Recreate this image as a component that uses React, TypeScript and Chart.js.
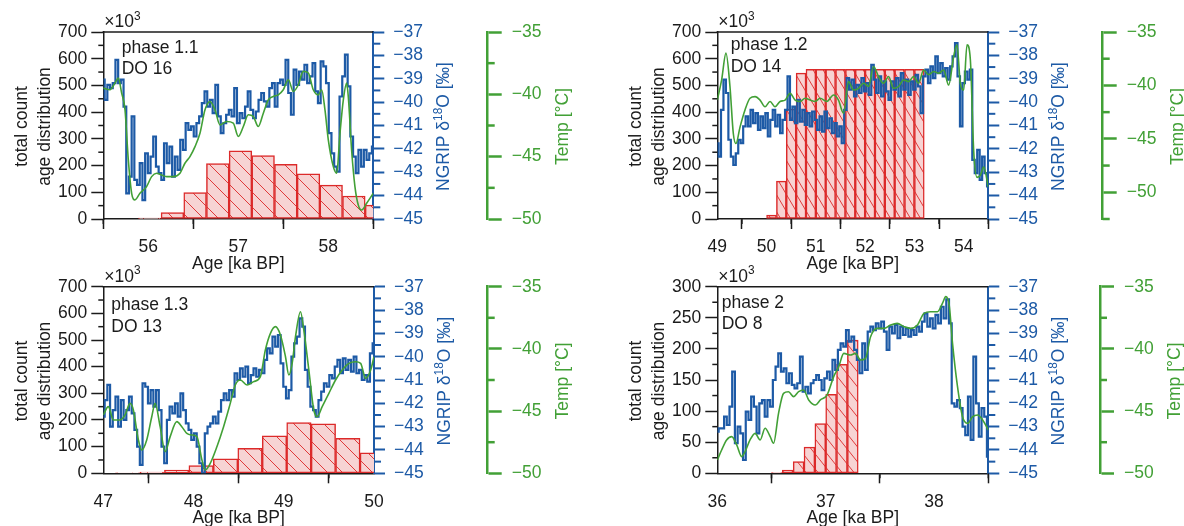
import { useEffect, useRef } from 'react';
import { Chart, registerables } from 'chart.js';

Chart.register(...registerables);

const FONT_FAMILY = '"Liberation Sans", Arial, Helvetica, sans-serif';
const FONT_SIZE = 17.5;
const INK = '#1b1b1b';
const BLUE = '#1d5aa6';
const GREEN = '#42a036';
const RED = '#dc2a2a';
const PINK = '#f7d3d3';

// shared right-hand axes
const isoTicks = [-45, -44, -43, -42, -41, -40, -39, -38, -37];
const tempTicks = [-50, -45, -40, -35];

// ---------- phase 1.1 / DO 16 ----------
const p1AgeTicks = [56, 57, 58];
const p1CountTicks = [0, 100, 200, 300, 400, 500, 600, 700];
const p1BinCenters = [56.016, 56.268, 56.52, 56.772, 57.024, 57.276, 57.528, 57.78, 58.032, 58.284, 58.536];
const p1BinCounts = [3, 24, 99, 207, 255, 237, 205, 169, 127, 86, 52];
const p1IsoFirstAge = 55.5;
const p1IsoStep = 0.03;
const p1Iso = [
  -39.04, -39.9, -39.26, -39.4, -39.19, -38.19, -39.19, -39.04, -40.19, -43.9,
  -43.19, -40.61, -43.33, -43.54, -42.61, -44.19, -42.19, -43.04, -42.33, -41.47,
  -42.76, -43.04, -43.33, -41.76, -42.61, -41.9, -43.19, -42.33, -42.9, -41.61,
  -42.04, -40.9, -41.19, -41.04, -41.47, -40.9, -40.61, -40.04, -39.54, -40.19,
  -39.9, -40.47, -39.26, -40.61, -41.33, -40.9, -40.54, -40.33, -40.61, -39.4,
  -40.9, -40.47, -40.69, -40.19, -39.54, -40.33, -40.69, -40.4, -39.9, -39.61,
  -39.97, -40.19, -39.4, -39.19, -40.19, -39.19, -39.04, -39.26, -38.19, -39.61,
  -40.54, -38.61, -39.26, -38.69, -39.04, -38.4, -39.19, -38.9, -38.33, -39.54,
  -40.04, -38.26, -38.47, -39.19, -41.33, -42.19, -42.76, -42.97, -39.76, -38.9,
  -37.97, -39.33, -41.47, -42.33, -43.04, -42.04, -42.76, -42.04, -42.47, -42.19,
  -41.9,
];
const p1TempAges = [
  55.5, 55.574, 55.63, 55.667, 55.704, 55.741, 55.778, 55.815, 55.852, 55.907,
  55.981, 56.037, 56.093, 56.148, 56.204, 56.278, 56.352, 56.407, 56.463, 56.519,
  56.574, 56.63, 56.685, 56.741, 56.796, 56.87, 56.944, 57.0, 57.056, 57.111,
  57.167, 57.222, 57.278, 57.333, 57.389, 57.444, 57.5, 57.556, 57.611, 57.667,
  57.722, 57.778, 57.833, 57.889, 57.926, 57.963, 58.0, 58.056, 58.093, 58.13,
  58.167, 58.204, 58.222, 58.259, 58.296, 58.333, 58.37, 58.426, 58.5,
];
const p1Temp = [
  -39.5, -39.63, -39.1, -38.7, -39.9, -41.24, -45.26, -47.94, -48.47, -47.94,
  -47.4, -46.6, -46.33, -46.47, -46.6, -46.6, -46.33, -45.53, -44.99, -44.19,
  -43.12, -41.24, -40.57, -41.24, -42.45, -42.18, -42.31, -43.38, -42.58, -41.64,
  -41.78, -42.58, -41.51, -40.44, -40.17, -40.04, -39.63, -38.83, -39.77, -39.23,
  -38.16, -38.29, -39.63, -40.04, -39.63, -41.24, -43.65, -45.8, -46.33, -43.12,
  -40.44, -39.1, -40.17, -44.46, -47.4, -48.88, -49.28, -48.74, -47.94,
];

// ---------- phase 1.2 / DO 14 ----------
const p2AgeTicks = [49, 50, 51, 52, 53, 54];
const p2CountTicks = [0, 100, 200, 300, 400, 500, 600, 700];
const p2BinCenters = [50.1, 50.3, 50.5, 50.7, 50.9, 51.1, 51.3, 51.5, 51.7, 51.9, 52.1, 52.3, 52.5, 52.7, 52.9, 53.1];
const p2BinCounts = [15, 142, 411, 546, 560, 560, 560, 560, 560, 560, 560, 560, 560, 560, 560, 560];
const p2IsoFirstAge = 49.0;
const p2IsoStep = 0.05;
const p2Iso = [
  -41.76, -42.33, -40.33, -39.04, -39.61, -41.61, -42.33, -42.69, -42.19, -41.61,
  -41.76, -41.04, -40.61, -41.04, -40.33, -40.9, -40.47, -41.19, -40.61, -41.11,
  -40.47, -41.47, -40.76, -40.33, -41.04, -40.54, -41.33, -40.76, -40.33, -38.9,
  -40.76, -40.19, -40.9, -39.9, -40.83, -40.33, -40.97, -40.47, -41.04, -40.4,
  -40.76, -41.19, -40.61, -41.26, -40.4, -41.11, -40.69, -41.33, -40.9, -41.47,
  -41.04, -41.76, -40.33, -38.97, -39.47, -39.04, -39.76, -39.26, -39.61, -38.97,
  -39.54, -39.19, -39.69, -38.4, -39.04, -39.61, -38.9, -39.76, -39.11, -39.54,
  -39.9, -39.11, -39.47, -38.97, -39.76, -38.76, -39.47, -39.04, -39.69, -39.11,
  -39.47, -38.83, -39.33, -40.47, -38.9, -38.61, -39.19, -38.47, -38.97, -38.04,
  -38.76, -38.33, -38.9, -38.54, -39.04, -38.47, -38.04, -37.47, -38.9, -41.04,
  -39.19, -38.69, -39.04, -38.61, -42.47, -43.04, -42.04, -43.33, -42.33, -43.04,
  -43.61,
];
const p2TempAges = [
  49.0, 49.088, 49.176, 49.257, 49.325, 49.379, 49.461, 49.562, 49.664, 49.766,
  49.867, 49.969, 50.07, 50.172, 50.274, 50.375, 50.477, 50.579, 50.68, 50.782,
  50.883, 50.985, 51.087, 51.222, 51.358, 51.459, 51.561, 51.663, 51.764, 51.866,
  51.967, 52.069, 52.171, 52.272, 52.374, 52.476, 52.577, 52.679, 52.78, 52.882,
  52.984, 53.085, 53.187, 53.289, 53.39, 53.492, 53.593, 53.695, 53.797, 53.864,
  53.932, 54.0, 54.068, 54.136, 54.203, 54.271, 54.339, 54.407, 54.5,
];
const p2Temp = [
  -41.37, -39.49, -36.98, -40.1, -44.5, -45.44, -43.9, -42.3, -41.2, -41.05,
  -41.37, -42.0, -41.5, -42.0, -41.5, -41.37, -40.74, -41.37, -41.5, -41.2,
  -41.37, -41.5, -41.2, -41.5, -40.9, -41.37, -42.6, -39.64, -40.43, -40.27,
  -39.8, -40.1, -38.23, -39.17, -39.8, -39.17, -40.27, -40.1, -39.49, -39.64,
  -39.17, -39.8, -38.55, -39.0, -38.7, -38.86, -38.55, -39.96, -37.29, -36.19,
  -39.8, -40.43, -36.19, -37.6, -46.08, -48.6, -48.4, -47.65, -49.5,
];

// ---------- phase 1.3 / DO 13 ----------
const p3AgeTicks = [47, 48, 49, 50];
const p3CountTicks = [0, 100, 200, 300, 400, 500, 600, 700];
const p3BinCenters = [47.271, 47.542, 47.813, 48.084, 48.355, 48.626, 48.897, 49.168, 49.439, 49.71, 49.981];
const p3BinCounts = [1, 5, 12, 29, 54, 94, 141, 190, 186, 131, 77];
const p3IsoFirstAge = 47.0;
const p3IsoStep = 0.03;
const p3Iso = [
  -42.57, -41.86, -41.21, -43.0, -42.29, -41.71, -43.0, -41.86, -42.71, -42.29,
  -41.71, -42.43, -43.14, -43.86, -44.64, -41.14, -41.29, -42.0, -41.43, -42.14,
  -41.43, -42.29, -43.86, -44.57, -42.71, -42.14, -42.43, -42.0, -42.57, -41.57,
  -42.29, -42.86, -43.14, -43.57, -43.29, -43.86, -44.57, -45.0, -43.29, -43.0,
  -42.86, -42.57, -42.86, -42.36, -41.86, -41.57, -41.86, -41.43, -41.71, -40.71,
  -41.0, -40.5, -40.86, -40.43, -41.14, -40.79, -40.5, -40.86, -40.57, -40.71,
  -40.14, -39.64, -39.86, -39.14, -39.57, -39.07, -40.29, -41.29, -41.79, -41.43,
  -40.0, -39.43, -39.14, -38.36, -38.71, -40.57, -41.29, -42.14, -42.29, -42.57,
  -41.86, -41.5, -41.14, -41.29, -40.79, -40.93, -40.43, -40.14, -40.71, -40.07,
  -40.57, -40.14, -40.64, -40.0, -40.71, -40.57, -41.0, -40.79, -41.07, -39.86,
  -39.43,
];
const p3TempAges = [
  47.0, 47.056, 47.111, 47.185, 47.241, 47.296, 47.333, 47.389, 47.426, 47.481,
  47.537, 47.574, 47.63, 47.685, 47.741, 47.815, 47.87, 47.926, 47.981, 48.037,
  48.093, 48.13, 48.185, 48.259, 48.333, 48.407, 48.463, 48.519, 48.593, 48.667,
  48.741, 48.796, 48.852, 48.907, 48.963, 49.019, 49.056, 49.093, 49.13, 49.185,
  49.222, 49.278, 49.333, 49.37, 49.426, 49.5, 49.574, 49.648, 49.722, 49.796,
  49.852, 49.907, 49.963, 50.0,
];
const p3Temp = [
  -45.31, -44.64, -45.71, -45.71, -45.31, -44.38, -44.91, -47.32, -48.13, -47.32,
  -45.45, -44.38, -46.25, -48.26, -47.05, -45.85, -46.25, -46.79, -46.92, -47.05,
  -48.93, -49.73, -49.2, -47.86, -46.25, -44.38, -42.9, -42.5, -42.9, -42.63,
  -42.23, -40.09, -38.75, -38.21, -38.88, -40.63, -42.1, -41.16, -39.02, -37.01,
  -38.48, -41.7, -44.91, -45.45, -44.64, -43.57, -42.5, -41.7, -41.16, -41.03,
  -41.16, -42.37, -41.7, -40.63,
];

// ---------- phase 2 / DO 8 ----------
const p4AgeTicks = [36, 37, 38];
const p4CountTicks = [0, 50, 100, 150, 200, 250, 300];
const p4BinCenters = [36.55, 36.65, 36.75, 36.85, 36.95, 37.05, 37.15, 37.25];
const p4BinCounts = [1, 5, 19, 42, 80, 127, 175, 214];
const p4IsoFirstAge = 36.0;
const p4IsoStep = 0.025;
const p4Iso = [
  -43.21, -43.07, -43.07, -42.57, -42.93, -42.14, -40.64, -43.71, -43.0, -43.29,
  -44.43, -42.36, -42.71, -41.71, -42.14, -43.29, -42.0, -41.86, -42.57, -41.86,
  -42.14, -41.0, -40.43, -39.86, -40.64, -40.5, -41.14, -40.71, -41.21, -41.36,
  -41.14, -40.0, -41.5, -41.29, -41.57, -41.14, -41.0, -40.79, -41.0, -41.43,
  -40.93, -40.64, -41.0, -40.14, -40.57, -39.71, -39.43, -39.57, -38.86, -39.36,
  -39.14, -39.71, -40.14, -40.71, -39.43, -40.57, -38.93, -38.71, -38.86, -38.57,
  -38.79, -38.5, -38.93, -39.71, -38.71, -39.0, -38.64, -39.21, -38.71, -39.07,
  -38.79, -39.14, -38.86, -39.07, -38.71, -38.93, -38.5, -38.14, -38.71, -38.36,
  -38.79, -38.21, -38.57, -37.86, -38.36, -37.54, -38.57, -42.0, -42.14, -41.86,
  -42.21, -43.0, -43.36, -41.71, -43.57, -40.0, -42.0, -43.43, -42.21, -42.57,
  -44.29,
];
const p4TempAges = [
  36.0, 36.04, 36.086, 36.133, 36.179, 36.225, 36.256, 36.302, 36.349, 36.395,
  36.441, 36.488, 36.519, 36.565, 36.611, 36.657, 36.704, 36.75, 36.796, 36.843,
  36.904, 36.951, 37.012, 37.074, 37.12, 37.167, 37.228, 37.275, 37.321, 37.367,
  37.414, 37.475, 37.537, 37.599, 37.66, 37.722, 37.784, 37.846, 37.907, 37.969,
  38.031, 38.077, 38.108, 38.139, 38.17, 38.216, 38.262, 38.309, 38.355, 38.401,
  38.448, 38.5,
];
const p4Temp = [
  -48.93, -48.13, -47.32, -47.05, -47.72, -48.66, -48.26, -47.32, -46.79, -47.32,
  -46.38, -47.05, -47.59, -45.18, -43.57, -43.44, -43.84, -43.44, -43.3, -44.1,
  -44.51, -44.1, -43.71, -42.23, -41.43, -40.36, -40.49, -40.36, -40.89, -40.76,
  -39.02, -38.35, -38.35, -38.08, -37.95, -38.21, -38.35, -38.08, -37.14, -37.01,
  -37.01, -36.34, -35.8, -36.47, -39.55, -43.04, -45.45, -45.98, -45.45, -45.31,
  -45.71, -46.52,
];

type Panel = {
  phase: string;
  event: string;
  ageMin: number;
  ageMax: number;
  ageTicks: number[];
  countMax: number;
  countTicks: number[];
  tempMin: number;
  binCenters: number[];
  binCounts: number[];
  isoFirstAge: number;
  isoStep: number;
  iso: number[];
  tempAges: number[];
  temp: number[];
};

type Frame = {
  x: number; y: number; w: number; h: number;
  left: number; right: number; top: number; bottom: number; tempAxis: number;
  labelDx: number; labelBase1: number; labelBase2: number;
  hatchW: number; hatchH: number;
};

const panels: Panel[] = [
  { phase: 'phase 1.1', event: 'DO 16', ageMin: 55.5, ageMax: 58.5, ageTicks: p1AgeTicks, countMax: 700, countTicks: p1CountTicks, tempMin: -50,
    binCenters: p1BinCenters, binCounts: p1BinCounts, isoFirstAge: p1IsoFirstAge, isoStep: p1IsoStep, iso: p1Iso, tempAges: p1TempAges, temp: p1Temp },
  { phase: 'phase 1.2', event: 'DO 14', ageMin: 49, ageMax: 54.5, ageTicks: p2AgeTicks, countMax: 700, countTicks: p2CountTicks, tempMin: -52.5,
    binCenters: p2BinCenters, binCounts: p2BinCounts, isoFirstAge: p2IsoFirstAge, isoStep: p2IsoStep, iso: p2Iso, tempAges: p2TempAges, temp: p2Temp },
  { phase: 'phase 1.3', event: 'DO 13', ageMin: 47, ageMax: 50, ageTicks: p3AgeTicks, countMax: 700, countTicks: p3CountTicks, tempMin: -50,
    binCenters: p3BinCenters, binCounts: p3BinCounts, isoFirstAge: p3IsoFirstAge, isoStep: p3IsoStep, iso: p3Iso, tempAges: p3TempAges, temp: p3Temp },
  { phase: 'phase 2', event: 'DO 8', ageMin: 36, ageMax: 38.5, ageTicks: p4AgeTicks, countMax: 300, countTicks: p4CountTicks, tempMin: -50,
    binCenters: p4BinCenters, binCounts: p4BinCounts, isoFirstAge: p4IsoFirstAge, isoStep: p4IsoStep, iso: p4Iso, tempAges: p4TempAges, temp: p4Temp },
];

const frames: Frame[] = [
  { x: 0, y: 0, w: 592, h: 280, left: 103.3, right: 373.3, top: 32, bottom: 219, tempAxis: 487.7, labelDx: 18.4, labelBase1: 20.7, labelBase2: 42, hatchW: 15, hatchH: 15 },
  { x: 592, y: 0, w: 592, h: 280, left: 125.3, right: 396.3, top: 32, bottom: 219, tempAxis: 510.7, labelDx: 13.4, labelBase1: 18, labelBase2: 39.7, hatchW: 10, hatchH: 17 },
  { x: 0, y: 250, w: 592, h: 276, left: 103.3, right: 374, top: 36.7, bottom: 223.3, tempAxis: 487.7, labelDx: 8, labelBase1: 23.3, labelBase2: 45, hatchW: 15, hatchH: 15 },
  { x: 592, y: 250, w: 592, h: 276, left: 125.3, right: 396.3, top: 36.7, bottom: 223.3, tempAxis: 508, labelDx: 4.4, labelBase1: 21.7, labelBase2: 42.3, hatchW: 12, hatchH: 15 },
];

function hatch(w: number, h: number): CanvasPattern | string {
  const c = document.createElement('canvas');
  c.width = w;
  c.height = h;
  const g = c.getContext('2d');
  if (!g) return PINK;
  g.fillStyle = PINK;
  g.fillRect(0, 0, w, h);
  g.strokeStyle = 'rgba(222,48,48,0.95)';
  g.lineWidth = 1;
  g.beginPath();
  for (const dx of [-w, 0, w]) {
    g.moveTo(dx, 0);
    g.lineTo(dx + w, h);
  }
  g.stroke();
  return g.createPattern(c, 'repeat') || PINK;
}

type Part = { t: string; sup?: boolean };

function drawRich(ctx: CanvasRenderingContext2D, parts: Part[], x: number, y: number, color: string, rotate: boolean, center: boolean) {
  const big = `${FONT_SIZE}px ${FONT_FAMILY}`;
  const small = `${FONT_SIZE * 0.68}px ${FONT_FAMILY}`;
  let total = 0;
  for (const p of parts) {
    ctx.font = p.sup ? small : big;
    total += ctx.measureText(p.t).width;
  }
  ctx.save();
  ctx.translate(x, y);
  if (rotate) ctx.rotate(-Math.PI / 2);
  ctx.fillStyle = color;
  ctx.textAlign = 'left';
  ctx.textBaseline = 'alphabetic';
  let cx = center ? -total / 2 : 0;
  for (const p of parts) {
    ctx.font = p.sup ? small : big;
    ctx.fillText(p.t, cx, p.sup ? -FONT_SIZE * 0.42 : 0);
    cx += ctx.measureText(p.t).width;
  }
  ctx.restore();
}

function eachMinor(min: number, max: number, step: number, major: number, fn: (v: number) => void) {
  const k0 = Math.ceil(min / step - 1e-9);
  const k1 = Math.floor(max / step + 1e-9);
  for (let k = k0; k <= k1; k++) {
    const v = k * step;
    const r = v / major;
    if (Math.abs(r - Math.round(r)) < 1e-6) continue;
    fn(v);
  }
}

function buildConfig(p: Panel, f: Frame): any {
  const isoPoints = p.iso.map((v, i) => ({ x: p.isoFirstAge + i * p.isoStep, y: v }));
  const tempPoints = p.tempAges.map((a, i) => ({ x: a, y: p.temp[i] }));
  const binPoints = p.binCenters.map((c, i) => ({ x: c, y: p.binCounts[i] }));
  const tickFont = { family: FONT_FAMILY, size: FONT_SIZE };
  const setTicks = (values: number[]) => (scale: any) => {
    scale.ticks = values.map((value) => ({ value }));
  };
  const fmt = (v: any) => String(v).replace('-', '\u2212');
  const countStep = p.countTicks[1] - p.countTicks[0];

  const decor = {
    id: 'decor',
    afterDraw(chart: any) {
      const { ctx, chartArea: a, scales } = chart;
      const sx = scales.x, syc = scales.yc, syi = scales.yi, syt = scales.yt;
      const seg = (color: string, width: number, x1: number, y1: number, x2: number, y2: number) => {
        ctx.strokeStyle = color;
        ctx.lineWidth = width;
        ctx.beginPath();
        ctx.moveTo(x1, y1);
        ctx.lineTo(x2, y2);
        ctx.stroke();
      };
      ctx.save();
      ctx.lineCap = 'butt';
      // top frame line
      seg(INK, 1.5, a.left - 0.75, a.top, a.right, a.top);
      // minor ticks
      eachMinor(p.ageMin, p.ageMax, 0.5, 1, (v) => {
        const px = sx.getPixelForValue(v);
        seg(INK, 1.5, px, a.bottom, px, a.bottom + 5);
      });
      eachMinor(0, p.countMax, countStep / 2, countStep, (v) => {
        const py = syc.getPixelForValue(v);
        seg(INK, 1.5, a.left, py, a.left - 5, py);
      });
      eachMinor(-45, -37, 0.5, 1, (v) => {
        const py = syi.getPixelForValue(v);
        seg(BLUE, 2, a.right, py, a.right + 7, py);
      });
      eachMinor(p.tempMin, -35, 2.5, 5, (v) => {
        const py = syt.getPixelForValue(v);
        seg(GREEN, 2.5, syt.left, py, syt.left + 7, py);
      });

      const midY = (a.top + a.bottom) / 2 + 1;
      drawRich(ctx, [{ t: 'total count' }], a.left - 76, midY, INK, true, true);
      drawRich(ctx, [{ t: 'age distribution' }], a.left - 53, midY, INK, true, true);
      drawRich(ctx, [{ t: 'NGRIP \u03b4' }, { t: '18', sup: true }, { t: 'O [\u2030]' }], a.right + 76, midY, BLUE, true, true);
      drawRich(ctx, [{ t: 'Temp [\u00b0C]' }], syt.left + 80, midY, GREEN, true, true);
      drawRich(ctx, [{ t: 'Age [ka BP]' }], (a.left + a.right) / 2, a.bottom + 50, INK, false, true);
      drawRich(ctx, [{ t: '\u00d710' }, { t: '3', sup: true }], a.left + 1, a.top - 5, INK, false, false);
      drawRich(ctx, [{ t: p.phase }], a.left + f.labelDx, a.top + f.labelBase1, INK, false, false);
      drawRich(ctx, [{ t: p.event }], a.left + f.labelDx, a.top + f.labelBase2, INK, false, false);
      ctx.restore();
    },
  };

  return {
    type: 'line',
    data: {
      datasets: [
        {
          type: 'bar', data: binPoints, xAxisID: 'x', yAxisID: 'yc',
          backgroundColor: hatch(f.hatchW, f.hatchH), borderColor: RED, borderWidth: 1.5, borderSkipped: false,
          barPercentage: 1, categoryPercentage: 1, order: 3,
        },
        {
          type: 'line', data: isoPoints, xAxisID: 'x', yAxisID: 'yi',
          borderColor: BLUE, borderWidth: 2.2, stepped: 'middle', pointRadius: 0, fill: false, order: 2,
        },
        {
          type: 'line', data: tempPoints, xAxisID: 'x', yAxisID: 'yt',
          borderColor: GREEN, borderWidth: 1.6, cubicInterpolationMode: 'monotone', pointRadius: 0, fill: false, order: 1,
        },
      ],
    },
    options: {
      responsive: false,
      animation: false,
      devicePixelRatio: 1,
      events: [],
      layout: { padding: { top: f.top, left: 0, right: 0, bottom: 0 } },
      plugins: { legend: { display: false }, tooltip: { enabled: false } },
      scales: {
        x: {
          type: 'linear', position: 'bottom', min: p.ageMin, max: p.ageMax, offset: false,
          afterBuildTicks: setTicks(p.ageTicks),
          afterFit: (s: any) => { s.height = f.h - f.bottom; },
          grid: { display: true, drawOnChartArea: false, drawTicks: true, tickLength: 10, tickColor: INK, tickWidth: 1.5 },
          border: { display: true, color: INK, width: 1.5 },
          ticks: { color: INK, font: tickFont, padding: 8, autoSkip: false, maxRotation: 0, callback: fmt },
        },
        yc: {
          type: 'linear', position: 'left', min: 0, max: p.countMax, weight: 0,
          afterBuildTicks: setTicks(p.countTicks),
          afterFit: (s: any) => { s.width = f.left; },
          grid: { display: true, drawOnChartArea: false, drawTicks: true, tickLength: 12, tickColor: INK, tickWidth: 1.5 },
          border: { display: true, color: INK, width: 1.5 },
          ticks: { color: INK, font: tickFont, padding: 4, autoSkip: false, callback: fmt },
        },
        yi: {
          type: 'linear', position: 'right', min: -45, max: -37, weight: 1,
          afterBuildTicks: setTicks(isoTicks),
          afterFit: (s: any) => { s.width = f.tempAxis - f.right; },
          grid: { display: true, drawOnChartArea: false, drawTicks: true, tickLength: 11, tickColor: BLUE, tickWidth: 2 },
          border: { display: true, color: BLUE, width: 2 },
          ticks: { color: BLUE, font: tickFont, padding: 9, autoSkip: false, callback: fmt },
        },
        yt: {
          type: 'linear', position: 'right', min: p.tempMin, max: -35, weight: 2,
          afterBuildTicks: setTicks(tempTicks),
          afterFit: (s: any) => { s.width = f.w - f.tempAxis; },
          grid: { display: true, drawOnChartArea: false, drawTicks: true, tickLength: 14, tickColor: GREEN, tickWidth: 2.5 },
          border: { display: true, color: GREEN, width: 2.5 },
          ticks: { color: GREEN, font: tickFont, padding: 10, autoSkip: false, callback: fmt },
        },
      },
    },
    plugins: [decor],
  };
}

function PanelChart({ panel, frame }: { panel: Panel; frame: Frame }) {
  const ref = useRef<HTMLCanvasElement>(null);
  useEffect(() => {
    if (!ref.current) return;
    const chart = new Chart(ref.current, buildConfig(panel, frame));
    return () => chart.destroy();
  }, [panel, frame]);
  return (
    <canvas
      ref={ref}
      width={frame.w}
      height={frame.h}
      style={{ position: 'absolute', left: frame.x, top: frame.y, width: frame.w, height: frame.h }}
    />
  );
}

export default function App() {
  return (
    <div style={{ position: 'fixed', left: 0, top: 0, width: 1184, height: 526, background: '#ffffff', overflow: 'hidden' }}>
      {panels.map((p, i) => (
        <PanelChart key={p.phase} panel={p} frame={frames[i]} />
      ))}
    </div>
  );
}
